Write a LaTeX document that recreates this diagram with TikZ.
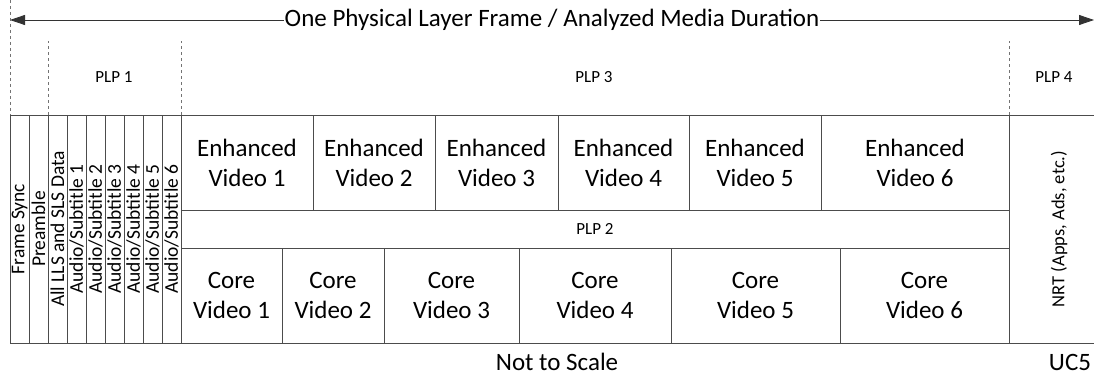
\documentclass[tikz,border=0pt]{standalone}
\usepackage{fontspec}
\setmainfont{Carlito}
\usetikzlibrary{arrows.meta, positioning}

\begin{document}
\begin{tikzpicture}[
        x=1pt, y=-1pt, >={Triangle[length=15pt,width=10pt]},
        frame/.style={draw=black!70, line width=0.8pt},
        cell/.style={frame, outer sep=0pt, inner sep=0pt, align=center,
          font=\fontsize{25}{30}\selectfont},
        strip/.style={cell, minimum width=19pt, minimum height=228pt},
        upper/.style={cell, minimum height=95pt},
        guide/.style={draw=black!55, dashed, line width=0.6pt},
        plp/.style={font=\fontsize{17}{20}\selectfont},
        sideways/.style={rotate=90, inner sep=0pt, font=\fontsize{19.5}{22}\selectfont},
        ]
        \useasboundingbox (0,0) rectangle (1094,377);

        % the frame arrow
        \coordinate (span_l) at (10,20);
        \coordinate (span_r) at (1094,20);
        \draw[<->, frame, draw=black!80] (span_l) -- node[fill=white, inner sep=1pt,
          font=\fontsize{25}{30}\selectfont] (title) {One Physical Layer Frame / Analyzed Media Duration} (span_r);

        % PLP 1 strips
        \node[strip, anchor=north west, label={[sideways]center:Frame Sync}] (col_1) at (10,115) {};
        \node[strip, right=0pt of col_1, label={[sideways]center:Preamble}] (col_2) {};
        \node[strip, right=0pt of col_2, label={[sideways]center:All LLS and SLS Data}] (col_3) {};
        \node[strip, right=0pt of col_3, label={[sideways]center:Audio/Subtitle 1}] (col_4) {};
        \node[strip, right=0pt of col_4, label={[sideways]center:Audio/Subtitle 2}] (col_5) {};
        \node[strip, right=0pt of col_5, label={[sideways]center:Audio/Subtitle 3}] (col_6) {};
        \node[strip, right=0pt of col_6, label={[sideways]center:Audio/Subtitle 4}] (col_7) {};
        \node[strip, right=0pt of col_7, label={[sideways]center:Audio/Subtitle 5}] (col_8) {};
        \node[strip, right=0pt of col_8, label={[sideways]center:Audio/Subtitle 6}] (col_9) {};

        % PLP 3
        \node[upper, minimum width=132pt, anchor=north west] (ev_1) at (col_9.north east) {Enhanced\\Video 1};
        \node[upper, minimum width=122pt, right=0pt of ev_1] (ev_2) {Enhanced\\Video 2};
        \node[upper, minimum width=123pt, right=0pt of ev_2] (ev_3) {Enhanced\\Video 3};
        \node[upper, minimum width=131pt, right=0pt of ev_3] (ev_4) {Enhanced\\Video 4};
        \node[upper, minimum width=132pt, right=0pt of ev_4] (ev_5) {Enhanced\\Video 5};
        \node[upper, minimum width=188pt, right=0pt of ev_5] (ev_6) {Enhanced\\Video 6};

        % PLP 2
        \node[cell, plp, minimum width=828pt, minimum height=38pt, anchor=north west] (plp_2) at (ev_1.south west) {PLP 2};
        \node[upper, minimum width=101pt, anchor=north west] (cv_1) at (plp_2.south west) {Core\\Video 1};
        \node[upper, minimum width=102pt, right=0pt of cv_1] (cv_2) {Core\\Video 2};
        \node[upper, minimum width=135pt, right=0pt of cv_2] (cv_3) {Core\\Video 3};
        \node[upper, minimum width=152pt, right=0pt of cv_3] (cv_4) {Core\\Video 4};
        \node[upper, minimum width=169pt, right=0pt of cv_4] (cv_5) {Core\\Video 5};
        \node[upper, minimum width=169pt, right=0pt of cv_5] (cv_6) {Core\\Video 6};

        % PLP 4
        \node[strip, draw=none, minimum width=100pt, anchor=north west,
          label={[sideways, font=\fontsize{18.5}{21}\selectfont]center:NRT (Apps, Ads, etc.)}] (nrt) at (ev_6.north east) {};
        \draw[frame] (ev_6.north east) -- (nrt.north east);
        \draw[frame] (cv_6.south east) -- (nrt.south east);

        % PLP borders
        \coordinate (plp_top) at (0,41);
        \coordinate (top_l) at (10,0);
        \draw[guide] (top_l) -- (col_1.north west);
        \draw[guide] (col_3.north west) -- (col_3.north west |- plp_top);
        \draw[guide] (col_9.north east) -- (col_9.north east |- plp_top);
        \draw[guide] (nrt.north west) -- (nrt.north west |- plp_top);

        \node[plp] (plp_1) at (114,77) {PLP 1};
        \node[plp] (plp_3) at (594,77) {PLP 3};
        \node[plp] (plp_4) at (1054,77) {PLP 4};

        \node[font=\fontsize{25}{30}\selectfont] (scale) at (557,362) {Not to Scale};
        \node[font=\fontsize{25}{30}\selectfont] (uc) at (1070,362) {UC5};
      \end{tikzpicture}
\end{document}
